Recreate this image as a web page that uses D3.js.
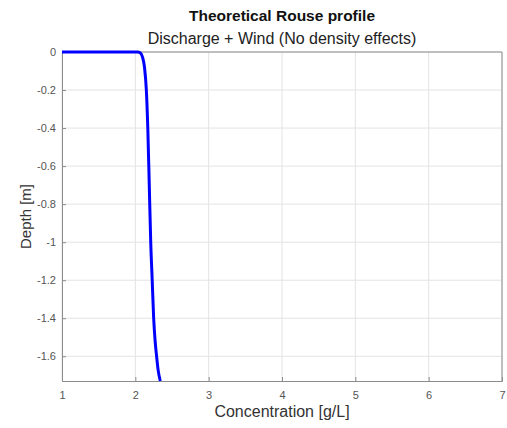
<!DOCTYPE html>
<html>
<head>
<meta charset="utf-8">
<script src="https://cdn.jsdelivr.net/npm/d3@7"></script>
<style>
  body { margin: 0; background: #fff; }
  svg { font-family: "Liberation Sans", Arial, sans-serif; }
</style>
</head>
<body>
<div id="chart"></div>
<script>
// profile (concentration g/L vs depth m)
var concentration = [0, 2.03, 2.07, 2.10, 2.125, 2.15, 2.17, 2.19, 2.21, 2.23, 2.25, 2.27, 2.29, 2.31, 2.34];
var depth = [0, 0, -0.005, -0.03, -0.08, -0.2, -0.4, -0.7, -1.0, -1.2, -1.4, -1.52, -1.6, -1.67, -1.73];

var xTicks = [1, 2, 3, 4, 5, 6, 7];
var yTicks = [0, -0.2, -0.4, -0.6, -0.8, -1, -1.2, -1.4, -1.6];

let width = 507;
let height = 428;
let margin = {top: 52, right: 5, bottom: 47, left: 62};

let svg = d3.select("#chart")
  .append("svg")
  .attr("width", width)
  .attr("height", height);

let x = d3.scaleLinear()
  .domain([1, 7])
  .range([margin.left, width - margin.right]);

let y = d3.scaleLinear()
  .domain([-1.73, 0])
  .range([height - margin.bottom, margin.top]);

// grid
svg.append("g")
  .selectAll("line")
  .data(xTicks)
  .enter()
  .append("line")
  .attr("x1", d => x(d)).attr("x2", d => x(d))
  .attr("y1", y.range()[0]).attr("y2", y.range()[1])
  .style("stroke", "#e3e3e3")
  .style("stroke-width", 1);

svg.append("g")
  .selectAll("line")
  .data(yTicks)
  .enter()
  .append("line")
  .attr("y1", d => y(d)).attr("y2", d => y(d))
  .attr("x1", x.range()[0]).attr("x2", x.range()[1])
  .style("stroke", "#e3e3e3")
  .style("stroke-width", 1);

// axes (ticks inside, matlab style), plain hyphen for minus
let xAxis = svg.append("g")
  .attr("transform", "translate(0," + y.range()[0] + ")")
  .call(d3.axisBottom(x).tickValues(xTicks).tickSize(-4).tickPadding(10).tickFormat(d => String(d)));

let yAxis = svg.append("g")
  .attr("transform", "translate(" + x.range()[0] + ",0)")
  .call(d3.axisLeft(y).tickValues(yTicks).tickSize(-4).tickPadding(6).tickFormat(d => String(d)));

[xAxis, yAxis].forEach(function(a) {
  a.select(".domain").style("stroke", "#8c8c8c");
  a.selectAll(".tick line").style("stroke", "#8c8c8c");
  a.selectAll(".tick text")
    .style("fill", "#555")
    .style("font-size", "11px")
    .style("font-family", "'Liberation Sans', Arial, sans-serif");
});

// top and right box lines
svg.append("line")
  .attr("x1", x.range()[0]).attr("x2", x.range()[1])
  .attr("y1", y.range()[1]).attr("y2", y.range()[1])
  .style("stroke", "#8c8c8c");
svg.append("line")
  .attr("x1", x.range()[1]).attr("x2", x.range()[1])
  .attr("y1", y.range()[0]).attr("y2", y.range()[1])
  .style("stroke", "#8c8c8c");

svg.append("clipPath")
  .attr("id", "clip")
  .append("rect")
  .attr("x", x.range()[0])
  .attr("y", y.range()[1] - 3)
  .attr("width", x.range()[1] - x.range()[0])
  .attr("height", y.range()[0] - y.range()[1] + 6);

let line = d3.line()
  .x(d => x(d[0]))
  .y(d => y(d[1]))
  .curve(d3.curveMonotoneX);

svg.append("path")
  .datum(concentration.map((c, i) => [c, depth[i]]))
  .attr("clip-path", "url(#clip)")
  .attr("d", line)
  .attr("fill", "none")
  .style("stroke", "#0000ff")
  .style("stroke-width", 3);

// titles
let cx = (x.range()[0] + x.range()[1]) / 2;

svg.append("text")
  .attr("x", cx)
  .attr("y", 21)
  .attr("text-anchor", "middle")
  .style("font-weight", "bold")
  .style("font-size", "15.5px")
  .style("fill", "#111")
  .text("Theoretical Rouse profile");

svg.append("text")
  .attr("x", cx)
  .attr("y", 44)
  .attr("text-anchor", "middle")
  .style("font-size", "16px")
  .style("fill", "#222")
  .text("Discharge + Wind (No density effects)");

svg.append("text")
  .attr("x", cx)
  .attr("y", 417)
  .attr("text-anchor", "middle")
  .style("font-size", "16px")
  .style("fill", "#333")
  .text("Concentration [g/L]");

svg.append("text")
  .attr("transform", "translate(31," + ((y.range()[0] + y.range()[1]) / 2) + ") rotate(-90)")
  .attr("text-anchor", "middle")
  .style("font-size", "15px")
  .style("fill", "#333")
  .text("Depth [m]");
</script>
</body>
</html>
